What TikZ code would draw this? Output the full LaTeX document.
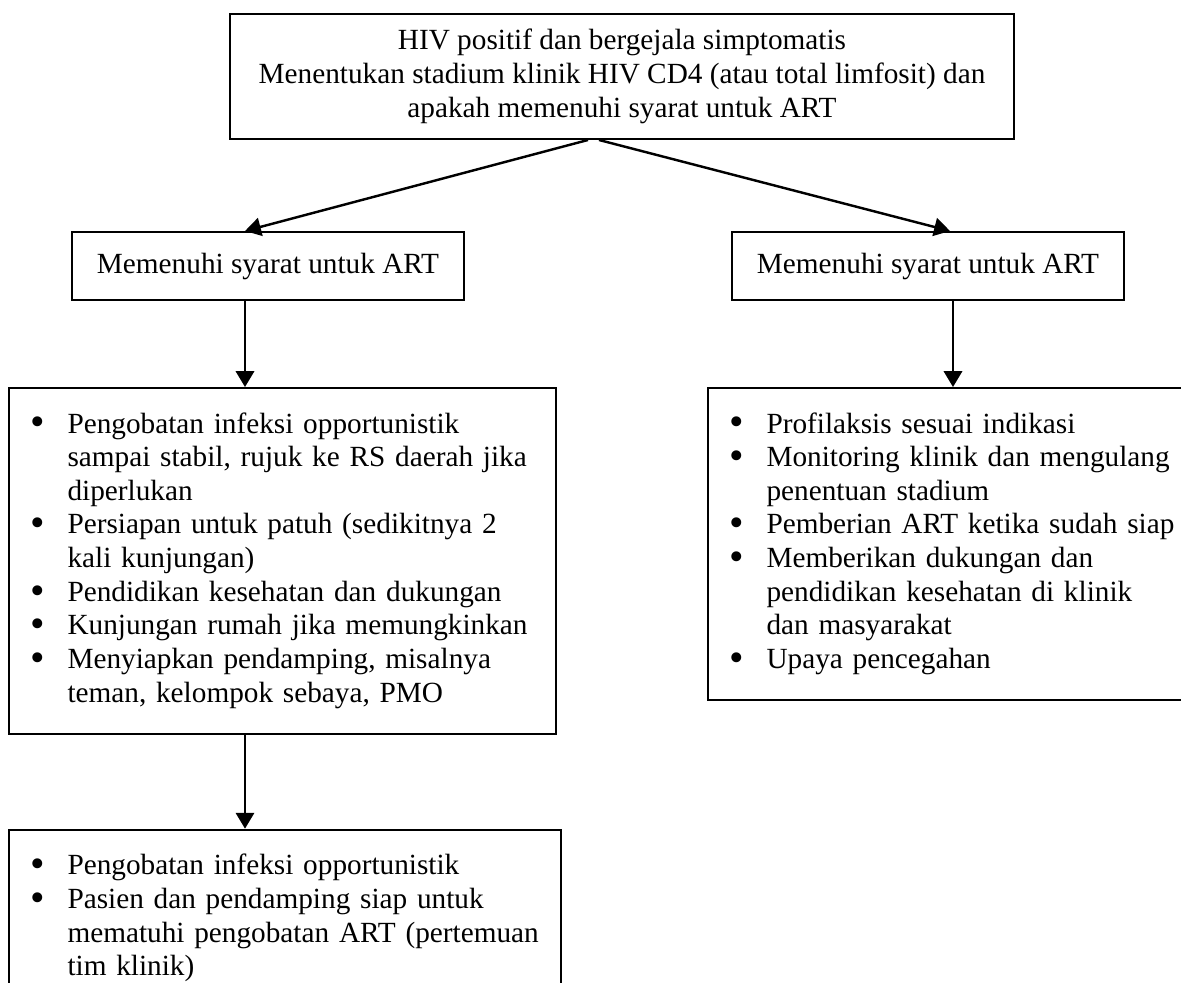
\documentclass[tikz,border=0pt]{standalone}
\usepackage{fontspec}
\setmainfont{Liberation Serif}
\usepackage{tikz}
\usetikzlibrary{arrows.meta, positioning, calc}
\newcommand{\blt}{\makebox[15pt][l]{\raisebox{-1.2pt}{\fontsize{17}{13.8}\selectfont •}}}
\tikzset{
    headbox/.style={rectangle, draw, line width=0.8pt, align=center, minimum width=321.4pt, minimum height=51.25pt, font=\fontsize{12}{13.8}\selectfont},
    askbox/.style={rectangle, draw, line width=0.8pt, minimum width=160.7pt, minimum height=27.9pt, font=\fontsize{12}{13.8}\selectfont},
    listbox/.style={rectangle, draw, line width=0.8pt, align=left, inner xsep=9pt, inner ysep=8.8pt, font=\fontsize{12}{13.8}\selectfont},
    arr/.style={draw, -{Triangle[length=6.5pt, width=7.5pt]}, line width=1pt}
}

\begin{document}
\begin{tikzpicture}[x=0.41pt, y=-0.41pt]
    \path[fill=white, use as bounding box] (0,0) rectangle (1181,983);

    \node[headbox] (hiv) at (622,76.5) {HIV positif dan bergejala simptomatis\\ Menentukan stadium klinik HIV CD4 (atau total limfosit) dan\\ apakah memenuhi syarat untuk ART};

    \node[askbox] (lpre) at (268,266) {Memenuhi syarat untuk ART};
    \node[askbox] (rpre) at (928,266) {Memenuhi syarat untuk ART};

    \node[listbox, text width=206.3pt, anchor=north west] (llist) at (8,387) {\noindent\begin{tabular}{@{}l@{}l@{}}
        \blt & Pengobatan infeksi opportunistik\\
             & sampai stabil, rujuk ke RS daerah jika\\
             & diperlukan\\
        \blt & Persiapan untuk patuh (sedikitnya 2\\
             & kali kunjungan)\\
        \blt & Pendidikan kesehatan dan dukungan\\
        \blt & Kunjungan rumah jika memungkinkan\\
        \blt & Menyiapkan pendamping, misalnya\\
             & teman, kelompok sebaya, PMO
    \end{tabular}};

    \node[listbox, text width=184.1pt, anchor=north west] (rlist) at (707,387) {\noindent\begin{tabular}{@{}l@{}l@{}}
        \blt & Profilaksis sesuai indikasi\\
        \blt & Monitoring klinik dan mengulang\\
             & penentuan stadium\\
        \blt & Pemberian ART ketika sudah siap\\
        \blt & Memberikan dukungan dan\\
             & pendidikan kesehatan di klinik\\
             & dan masyarakat\\
        \blt & Upaya pencegahan
    \end{tabular}};

    \node[listbox, text width=208.3pt, below=38.5pt of llist.south west, anchor=north west] (bot) {\noindent\begin{tabular}{@{}l@{}l@{}}
        \blt & Pengobatan infeksi opportunistik\\
        \blt & Pasien dan pendamping siap untuk\\
             & mematuhi pengobatan ART (pertemuan\\
             & tim klinik)
    \end{tabular}};

    \coordinate (la) at ($(lpre.south)+(-23,0)$);
    \coordinate (ra) at ($(rpre.south)+(25,0)$);

    \draw[arr] ($(hiv.south)+(-34,0)$) -- ($(lpre.north)+(-23,0)$);
    \draw[arr] ($(hiv.south)+(-23,0)$) -- ($(rpre.north)+(22,0)$);
    \draw[arr] (la) -- (la |- llist.north);
    \draw[arr] (ra) -- (ra |- rlist.north);
    \draw[arr] (la |- llist.south) -- (la |- bot.north);
\end{tikzpicture}
\end{document}
